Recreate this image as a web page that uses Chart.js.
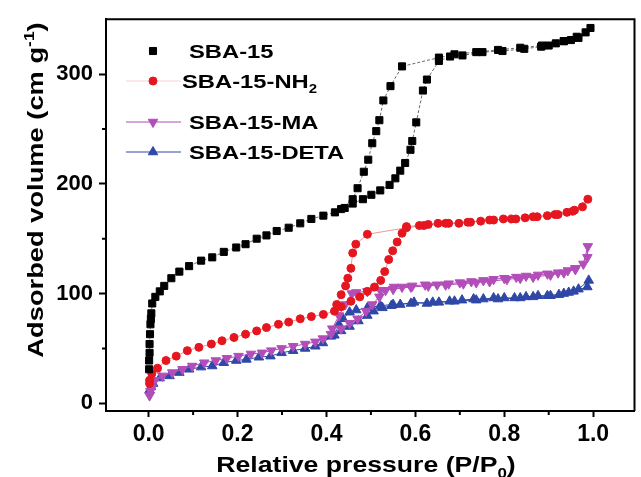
<!DOCTYPE html>
<html>
<head>
<meta charset="utf-8">
<script src="https://cdn.jsdelivr.net/npm/chart.js@4.4.0/dist/chart.umd.min.js"></script>
<style>
  html, body { margin: 0; padding: 0; background: #fff; }
</style>
</head>
<body>
<canvas id="chart" width="641" height="477"></canvas>
<script>
// Relative pressure (P/P0) and adsorbed volume; adsorption branch, then desorption branch
const sbaP = [0.001, 0.001, 0.002, 0.002, 0.003, 0.004, 0.005, 0.006, 0.008, 0.015, 0.025, 0.035, 0.051, 0.069, 0.091, 0.118, 0.143, 0.169, 0.197, 0.218, 0.243, 0.265, 0.288, 0.315, 0.341, 0.366, 0.393, 0.419, 0.441, 0.459, 0.482, 0.501, 0.521, 0.542, 0.555, 0.566, 0.577, 0.589, 0.593, 0.602, 0.617, 0.626, 0.653, 0.678, 0.706, 0.751, 0.796, 0.845, 0.883, 0.9, 0.916, 0.934, 0.95, 0.967, 0.983, 0.994,
  0.963, 0.934, 0.885, 0.836, 0.786, 0.737, 0.688, 0.653, 0.57, 0.544, 0.528, 0.519, 0.512, 0.503, 0.494, 0.484, 0.47, 0.459, 0.433];
const sbaV = [31, 39, 46, 54, 63, 72, 77, 82, 91, 97, 102, 107, 114, 120, 125, 130, 133, 138, 142, 145, 150, 153, 157, 160, 164, 168, 171, 174, 178, 182, 186, 190, 194, 199, 205, 212, 219, 231, 239, 256, 285, 295, 312, 316, 317, 320, 321, 323, 325, 326, 328, 330, 331, 333, 338, 342,
  334, 330, 326, 324, 322, 320, 318, 315, 307, 289, 276, 258, 248, 237, 222, 211, 196, 186, 177];

const nh2P = [0.002, 0.002, 0.007, 0.02, 0.039, 0.062, 0.087, 0.113, 0.141, 0.165, 0.192, 0.218, 0.243, 0.265, 0.292, 0.315, 0.341, 0.366, 0.393, 0.418, 0.433, 0.455, 0.475, 0.492, 0.508, 0.522, 0.531, 0.54, 0.549, 0.559, 0.57, 0.58, 0.609, 0.629, 0.651, 0.675, 0.698, 0.724, 0.747, 0.776, 0.798, 0.826, 0.847, 0.874, 0.897, 0.921, 0.941, 0.958, 0.976, 0.988,
  0.954, 0.914, 0.865, 0.816, 0.767, 0.718, 0.668, 0.619, 0.58, 0.492, 0.466, 0.459, 0.455, 0.448, 0.443, 0.433, 0.423];
const nh2V = [18, 21, 27, 32, 39, 43, 48, 51, 54, 57, 60, 63, 66, 69, 72, 74, 77, 79, 81, 84, 88, 93, 97, 102, 106, 112, 120, 131, 139, 147, 155, 161, 162, 163, 164, 164, 164, 165, 166, 167, 168, 168, 169, 170, 171, 172, 174, 176, 179, 186,
  175, 172, 170, 168, 167, 165, 164, 162, 160, 154, 145, 137, 123, 114, 107, 99, 90];

const maP = [0.002, 0.004, 0.007, 0.014, 0.031, 0.053, 0.076, 0.098, 0.125, 0.151, 0.176, 0.202, 0.23, 0.255, 0.276, 0.299, 0.325, 0.352, 0.375, 0.392, 0.41, 0.433, 0.452, 0.47, 0.489, 0.503, 0.519, 0.533, 0.552, 0.57, 0.593, 0.622, 0.649, 0.675, 0.7, 0.726, 0.753, 0.776, 0.8, 0.827, 0.849, 0.876, 0.897, 0.921, 0.943, 0.96, 0.978, 0.988,
  0.987, 0.96, 0.934, 0.904, 0.865, 0.836, 0.806, 0.767, 0.737, 0.708, 0.668, 0.629, 0.59, 0.55, 0.521, 0.492, 0.467, 0.457, 0.442, 0.428, 0.413];
const maV = [7, 11, 14, 21, 25, 28, 31, 34, 37, 39, 41, 43, 45, 46, 48, 50, 52, 54, 56, 59, 63, 68, 73, 77, 84, 90, 97, 103, 106, 106, 107, 108, 108, 109, 110, 111, 112, 113, 114, 115, 116, 117, 118, 119, 121, 123, 127, 143,
  133, 122, 119, 117, 115, 114, 113, 111, 110, 109, 108, 107, 106, 104, 103, 102, 101, 100, 90, 80, 68];

const detaP = [0.002, 0.005, 0.01, 0.025, 0.047, 0.069, 0.091, 0.118, 0.143, 0.169, 0.197, 0.22, 0.248, 0.274, 0.299, 0.325, 0.352, 0.375, 0.392, 0.41, 0.433, 0.452, 0.472, 0.492, 0.506, 0.526, 0.546, 0.566, 0.597, 0.626, 0.653, 0.677, 0.705, 0.731, 0.753, 0.776, 0.8, 0.823, 0.849, 0.876, 0.897, 0.923, 0.945, 0.967, 0.99,
  0.987, 0.956, 0.934, 0.904, 0.865, 0.836, 0.786, 0.737, 0.688, 0.639, 0.59, 0.55, 0.521, 0.492, 0.467, 0.452, 0.437, 0.428, 0.418];
const detaV = [12, 15, 18, 23, 25, 28, 31, 33, 34, 37, 39, 40, 42, 43, 46, 48, 50, 52, 55, 61, 66, 70, 75, 80, 84, 87, 89, 90, 92, 91, 92, 93, 94, 95, 95, 96, 96, 96, 97, 98, 98, 99, 101, 104, 112,
  106, 102, 100, 98, 97, 96, 95, 94, 93, 92, 91, 90, 89, 87, 85, 83, 77, 72, 62];

const xTickValues = [0, 0.2, 0.4, 0.6, 0.8, 1.0];
const xTickLabels = ['0.0', '0.2', '0.4', '0.6', '0.8', '1.0'];
const xMinorTicks = [0.1, 0.3, 0.5, 0.7, 0.9];
const yTickValues = [0, 100, 200, 300];
const yTickLabels = ['0', '100', '200', '300'];
const yMinorTicks = [50, 150, 250];

const FONT = '"Liberation Sans", Arial, Helvetica, sans-serif';
const BLACK = '#000000', RED = '#e5161f', PURPLE = '#b24db9', BLUE = '#2f47a6';

const pts = (xs, ys) => xs.map((x, i) => ({ x: x, y: ys[i] }));

// draws bold text with optional sub/superscript parts, stretched along its direction
function richText(ctx, parts, x, y, size, stretch, align) {
  const small = Math.round(size * 0.62);
  ctx.save();
  ctx.translate(x, y);
  ctx.scale(stretch, 1);
  ctx.fillStyle = '#000';
  ctx.textAlign = 'left';
  ctx.textBaseline = 'alphabetic';
  let total = 0;
  parts.forEach(([t, m]) => {
    ctx.font = `bold ${m ? small : size}px ${FONT}`;
    total += ctx.measureText(t).width;
  });
  let cx = align === 'center' ? -total / 2 : 0;
  parts.forEach(([t, m]) => {
    ctx.font = `bold ${m ? small : size}px ${FONT}`;
    const dy = m === 'sub' ? size * 0.28 : m === 'sup' ? -size * 0.42 : 0;
    ctx.fillText(t, cx, dy);
    cx += ctx.measureText(t).width;
  });
  ctx.restore();
}

const legendRows = [
  { parts: [['SBA-15', '']], y: 51, tx: 189, style: 'rect', rot: 0, r: 5, color: BLACK, line: null },
  { parts: [['SBA-15-NH', ''], ['2', 'sub']], y: 81, tx: 182, style: 'circle', rot: 0, r: 4, color: RED, line: 'rgba(235,150,150,0.45)' },
  { parts: [['SBA-15-MA', '']], y: 122, tx: 189, style: 'triangle', rot: 180, r: 5.5, color: PURPLE, line: PURPLE },
  { parts: [['SBA-15-DETA', '']], y: 152, tx: 189, style: 'triangle', rot: 0, r: 5.5, color: BLUE, line: BLUE }
];

const decorations = {
  id: 'decorations',
  afterDraw(chart) {
    const ctx = chart.ctx;
    const a = chart.chartArea;
    const xs = chart.scales.x, ys = chart.scales.y;
    ctx.save();
    ctx.strokeStyle = '#000';
    ctx.lineWidth = 2;
    // frame top and right
    ctx.beginPath();
    ctx.moveTo(a.left, a.top);
    ctx.lineTo(a.right, a.top);
    ctx.lineTo(a.right, a.bottom);
    ctx.stroke();
    // minor ticks
    ctx.beginPath();
    xMinorTicks.forEach(v => {
      const px = xs.getPixelForValue(v);
      ctx.moveTo(px, a.bottom);
      ctx.lineTo(px, a.bottom + 4);
    });
    yMinorTicks.forEach(v => {
      const py = ys.getPixelForValue(v);
      ctx.moveTo(a.left, py);
      ctx.lineTo(a.left - 4, py);
    });
    ctx.stroke();

    // legend
    legendRows.forEach(row => {
      if (row.line) {
        ctx.beginPath();
        ctx.strokeStyle = row.line;
        ctx.lineWidth = 1;
        ctx.moveTo(126, row.y);
        ctx.lineTo(181, row.y);
        ctx.stroke();
      }
      ctx.fillStyle = row.color;
      ctx.strokeStyle = row.color;
      ctx.lineWidth = 1;
      Chart.helpers.drawPoint(ctx, { pointStyle: row.style, radius: row.r, rotation: row.rot, borderWidth: 1 }, 153, row.y);
      richText(ctx, row.parts, row.tx, row.y + 7, 19, 1.25, 'left');
    });

    // axis titles
    richText(ctx, [['Relative pressure (P/P', ''], ['0', 'sub'], [')', '']], 366, 472, 22, 1.21, 'center');
    ctx.save();
    ctx.translate(43, 190);
    ctx.rotate(-Math.PI / 2);
    richText(ctx, [['Adsorbed volume (cm g', ''], ['-1', 'sup'], [')', '']], 0, 0, 22, 1.24, 'center');
    ctx.restore();
    ctx.restore();
  }
};

function series(label, xs, ys, color, style, rot, r, line, dash, order) {
  return {
    label: label,
    data: pts(xs, ys),
    showLine: true,
    borderColor: line,
    borderWidth: 1,
    borderDash: dash,
    backgroundColor: color,
    pointBackgroundColor: color,
    pointBorderColor: color,
    pointBorderWidth: 1,
    pointStyle: style,
    rotation: rot,
    pointRadius: r,
    tension: 0,
    order: order
  };
}

new Chart(document.getElementById('chart'), {
  type: 'scatter',
  data: {
    datasets: [
      series('SBA-15', sbaP, sbaV, BLACK, 'rect', 0, 5, 'rgba(70,70,70,0.8)', [3, 2], 1),
      series('SBA-15-NH2', nh2P, nh2V, RED, 'circle', 0, 4, 'rgba(225,110,110,0.7)', [], 2),
      series('SBA-15-MA', maP, maV, PURPLE, 'triangle', 180, 5.5, PURPLE, [], 3),
      series('SBA-15-DETA', detaP, detaV, BLUE, 'triangle', 0, 5.5, BLUE, [], 4)
    ]
  },
  options: {
    responsive: false,
    devicePixelRatio: 1,
    animation: false,
    layout: { padding: { top: 15, right: 2, left: 0, bottom: 0 } },
    plugins: { legend: { display: false }, tooltip: { enabled: false } },
    scales: {
      x: {
        type: 'linear',
        position: 'bottom',
        min: -0.096,
        max: 1.093,
        afterBuildTicks(scale) { scale.ticks = xTickValues.map(v => ({ value: v })); },
        afterFit(scale) { scale.height = 66; },
        border: { color: '#000', width: 2 },
        grid: { drawOnChartArea: false, tickLength: 6, tickWidth: 2, tickColor: '#000' },
        ticks: {
          autoSkip: false,
          maxRotation: 0,
          padding: 4,
          color: '#000',
          font: { family: FONT, size: 23, weight: 'bold' },
          callback: (v, i) => xTickLabels[i]
        }
      },
      y: {
        type: 'linear',
        min: -7,
        max: 350,
        afterBuildTicks(scale) { scale.ticks = yTickValues.map(v => ({ value: v })); },
        afterFit(scale) { scale.width = 106; },
        border: { color: '#000', width: 2 },
        grid: { drawOnChartArea: false, tickLength: 7, tickWidth: 2, tickColor: '#000' },
        ticks: {
          autoSkip: false,
          padding: 6,
          color: '#000',
          font: { family: FONT, size: 22, weight: 'bold' },
          callback: (v, i) => yTickLabels[i]
        }
      }
    }
  },
  plugins: [decorations]
});
</script>
</body>
</html>
